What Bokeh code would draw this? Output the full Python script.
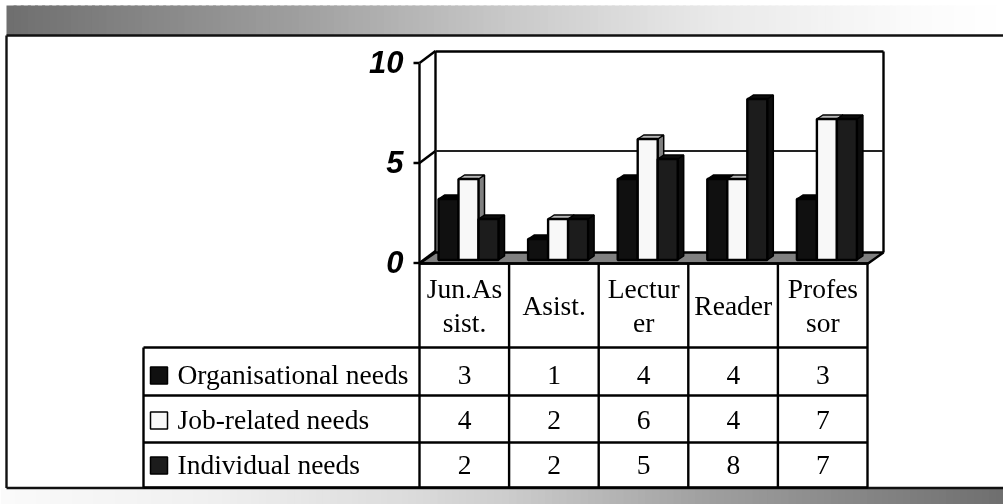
from bokeh.plotting import figure
from bokeh.models import Range1d
from bokeh.core.properties import value
from bokeh.embed import file_html
from bokeh.resources import INLINE

categories = ["Jun.As\nsist.", "Asist.", "Lectur\ner", "Reader", "Profes\nsor"]
series_names = ["Organisational needs", "Job-related needs", "Individual needs"]
organisational = [3, 1, 4, 4, 3]
job_related = [4, 2, 6, 4, 7]
individual = [2, 2, 5, 8, 7]
y_ticks = [0, 5, 10]

W, H = 1003, 504
CX0, CW = 464.0, 89.6
Y0, YU = 262.5, 20.0


def dx(px):
    return (px - CX0) / CW


def dy(py):
    return (Y0 - py) / YU


p = figure(width=W, height=H, output_backend="svg", toolbar_location=None,
           x_range=Range1d(dx(0), dx(W)), y_range=Range1d(dy(H), dy(0)),
           min_border=0, outline_line_color=None, background_fill_color="white",
           border_fill_color="white")
p.xaxis.visible = False
p.yaxis.visible = False
p.grid.visible = False
p.styles = {"position": "fixed", "left": "0px", "top": "0px"}


def lerp_stops(stops, t):
    for (a, ca), (b, cb) in zip(stops, stops[1:]):
        if t <= b:
            return ca + (cb - ca) * (t - a) / (b - a)
    return stops[-1][1]


def band(x0, x1, y0, y1, stops, n=140):
    xs = [x0 + (x1 - x0) * i / n for i in range(n + 1)]
    l = [dx(a) for a in xs[:-1]]
    r = [dx(min(b + 3, x1)) for b in xs[1:]]
    cols = []
    for a in xs[:-1]:
        g = int(round(lerp_stops(stops, a)))
        cols.append("#%02x%02x%02x" % (g, g, g))
    p.quad(left=l, right=r, bottom=dy(y1), top=dy(y0), fill_color=cols, line_color=None)


band(6, W, 5, 35, [(0, 110), (300, 160), (500, 200), (700, 232), (900, 250), (1003, 255)])
band(0, W, 488, H, [(0, 250), (200, 240), (400, 220), (500, 205), (700, 160), (1003, 110)])


def seg(x0, y0, x1, y1, w=2.4, c="black"):
    p.segment(dx(x0), dy(y0), dx(x1), dy(y1), line_color=c, line_width=w)


# outer frame
seg(6, 35, W, 35, 2.4, "#111111")
seg(6, 35, 6, 487.5, 2.4, "#111111")
seg(6, 487.5, W, 487.5, 2.4, "#111111")

# 3D chart box
wall_l, wall_r, wall_t, wall_b = 435, 883, 51, 252
front_l, front_r = 419, 867.5
p.patch([dx(front_l), dx(wall_l), dx(wall_r), dx(front_r)],
        [dy(263), dy(wall_b), dy(wall_b), dy(263)],
        fill_color="#808080", line_color="black", line_width=2.4)
seg(wall_l, wall_t, wall_r, wall_t)
seg(wall_l, wall_t, wall_l, wall_b)
seg(wall_r, wall_t, wall_r, wall_b)
seg(front_l, 263, front_l, 63)
for t in y_ticks:
    ty = Y0 - t * YU
    seg(413, ty, front_l, ty)
    seg(front_l, ty, wall_l, ty - 12)
    if t not in (0, 10):
        seg(wall_l, ty - 12, wall_r, ty - 12, 2, "#222222")
p.text([dx(403)] * len(y_ticks), [t + 0.04 for t in y_ticks], text=[str(t) for t in y_ticks],
       text_font=value("Liberation Sans"), text_font_size="31px", text_font_style="bold italic",
       text_align="right", text_baseline="middle", text_color="black")

# bars
bar_l = -26 / CW
bar_w = 20 / CW
ddx, ddy = 6 / CW, 4 / YU
base = 3.0 / YU
fills = [("#101010", "#000000", "#000000"), ("#f8f8f8", "#808080", "#b8b8b8"), ("#1c1c1c", "#0c0c0c", "#0c0c0c")]
for s, vals in enumerate([organisational, job_related, individual]):
    front, side, top = fills[s]
    for i, v in enumerate(vals):
        l = i + bar_l + s * bar_w
        r = l + bar_w
        vb, vt = base, v + base + 0.05
        p.patch([r, r + ddx, r + ddx, r], [vb, vb + ddy, vt + ddy, vt], fill_color=side, line_color="black", line_width=1.5)
        p.patch([l, l + ddx, r + ddx, r], [vt, vt + ddy, vt + ddy, vt], fill_color=top, line_color="black", line_width=1.5)
        p.quad(left=[l], right=[r], bottom=[vb], top=[vt], fill_color=front, line_color="black", line_width=2.4)

# data table
cols = [front_l + CW * i for i in range(6)]
row_y = [263, 347, 395, 442, 487]
for x in cols:
    seg(x, 263, x, 487)
seg(front_l, 263, front_r, 263)
seg(143, 347, 143, 487)
for y in row_y[1:]:
    seg(143, y, front_r, y)

p.text(list(range(5)), [dy(305)] * 5, text=categories,
       text_font=value("Liberation Serif"), text_font_size="27.5px", text_align="center",
       text_baseline="middle", text_line_height=1.12, text_color="black")

label_fonts = dict(text_font=value("Liberation Serif"), text_font_size="27.5px", text_color="black")
centers = [374, 419, 464]
for r, (name, vals) in enumerate(zip(series_names, [organisational, job_related, individual])):
    cy = centers[r]
    p.text(list(range(5)), [dy(cy)] * 5, text=[str(v) for v in vals], text_align="center",
           text_baseline="middle", **label_fonts)
    p.text([dx(177)], [dy(cy)], text=[name], text_align="left", text_baseline="middle", **label_fonts)
    p.quad(left=[dx(150)], right=[dx(167)], top=[dy(cy - 7.5)], bottom=[dy(cy + 9.5)],
           fill_color=fills[r][0], line_color="black", line_width=1.5)

open("out.html", "w").write(file_html(p, INLINE))
